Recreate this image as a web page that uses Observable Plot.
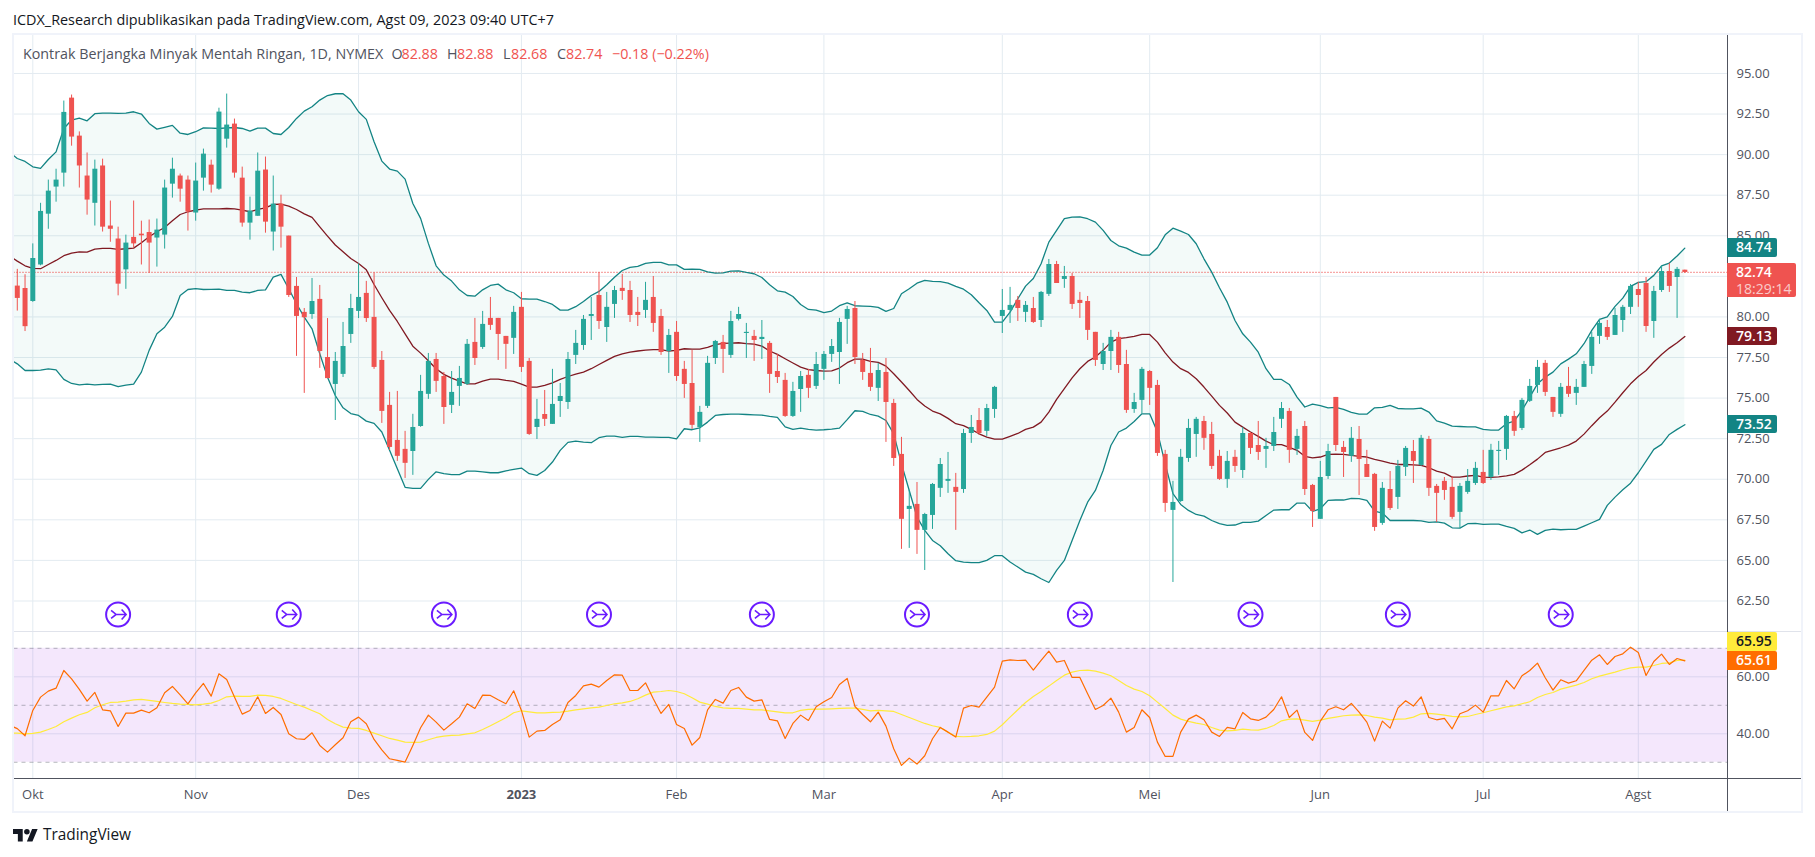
<!DOCTYPE html>
<html lang="id">
<head>
<meta charset="utf-8">
<title>Kontrak Berjangka Minyak Mentah Ringan</title>
<script src="https://cdn.jsdelivr.net/npm/d3@7"></script>
<script src="https://cdn.jsdelivr.net/npm/@observablehq/plot@0.6"></script>
<style>
html,body{margin:0;padding:0;background:#fff;overflow:hidden}
#page{position:relative;width:1815px;height:857px;font-family:"Open Sans",sans-serif;background:#fff}
#page>*{position:absolute}
svg{display:block;background:transparent!important}
.t{white-space:nowrap;line-height:1}
.box{box-sizing:border-box;border-radius:0 2px 2px 0;font-size:14px;font-weight:600;color:#fff;padding-left:9px}
</style>
</head>
<body>
<div id="page"></div>
<script>
// ---------- categories / ticks ----------
const firstCandleBar = -2, firstLineBar = -3;
const monthBars   = [0,21,42,63,83,102,125,144,166,187,207];
const monthLabels = ["Okt","Nov","Des","2023","Feb","Mar","Apr","Mei","Jun","Jul","Agst"];
const priceTicks  = [62.5,65,67.5,70,72.5,75,77.5,80,82.5,85,87.5,90,92.5,95];
const rsiTicks    = [40,60];
const rsiLevels   = [30,50,70];
const earningBars = [11,33,53,73,94,114,135,157,176,197];
const eventIconPrice = 61.67;
const lastPrice = 82.74;

// ---------- candles ----------
const opens = [81.9,81.75,80.95,83.2,86.33,88,88.86,93.48,91.14,88.68,
87,89.3,85.6,84.8,82.9,84.9,85.1,85.2,84.86,85.04,
88.18,88.68,88.43,86.4,88.55,89.35,87.87,90.95,91.88,88.55,
85.78,86.2,89.05,85.23,86.95,84.98,81.88,80.28,80.15,81.08,
77.5,75.84,76.46,78.92,80.34,81.45,79.97,77.32,74.55,72.39,
71.84,71.71,73.25,75.23,77.38,76.33,74.55,75.72,75.84,78.43,
78.12,79.91,79.91,78.8,78.68,80.59,77.26,73.19,73.99,73.38,
74.79,74.73,77.63,78.24,80.03,81.32,79.35,80.77,81.76,81.63,
80.28,80.4,81.2,80.03,77.87,79.05,76.77,75.9,73.19,74.49,
77.44,78.43,77.63,79.85,78.98,78.8,78.61,78.37,76.64,76.09,
73.87,75.53,76.4,75.72,76.77,77.69,77.81,79.85,80.52,77.32,
76.52,75.6,76.58,74.67,71.53,68.14,68.45,66.85,67.77,69.44,
69.87,69.5,69.37,72.82,73.62,72.95,74.3,80.03,80.4,81.02,
80.28,80.52,79.78,81.39,83.23,82.31,82.49,81.02,80.95,79.05,
77.07,77.87,78.74,77.07,74.3,74.86,76.64,75.78,71.53,68.08,
68.63,71.28,72.76,73.56,72.76,71.41,69.99,71.35,70.54,72.82,
72.08,71.84,72.02,73.69,74.18,71.84,73.25,69.62,67.53,70.17,
75.04,71.96,71.41,72.45,70.91,70.3,67.28,69.37,68.88,70.73,
71.71,70.85,72.45,69.56,69.87,69.5,67.96,69.19,69.74,70.42,
70.11,71.71,71.84,73.87,73.13,74.8,75.78,77.14,75.04,74,
75.72,75.29,75.66,76.95,78.8,79.35,78.86,79.78,80.59,81.69,
82.06,79.72,81.63,82.8,82.43,82.88];
const highs = [82.93,82.6,84.5,87,88.43,89.1,93.3,93.67,91.4,90.1,
89.66,89.72,87.14,85.53,85.04,87.14,85.9,85.97,86.03,88.43,
89.78,88.8,88.68,89.48,90.34,89.66,92.86,93.73,92.19,89.23,
87.38,90.1,89.85,88.68,87.5,84.98,82.43,80.52,82.37,81.94,
79.9,77.81,79.66,81.39,83.27,82.19,82.72,77.87,75.35,75.41,
72.95,74,76.4,77.75,77.75,76.58,76.64,76.95,78.61,79.91,
80.34,81.2,79.91,78.8,80.65,81.51,77.44,74.92,75.47,76.77,
75.9,77.81,79.17,80.09,81.2,82.74,81.51,81.88,82.62,82.19,
81.2,82.13,82.49,80.46,79.23,79.72,77.26,77.94,74.49,77.57,
78.55,78.86,80.34,80.59,79.6,79.17,79.78,78.49,77.69,76.52,
75.97,76.64,76.77,77.81,77.87,78.61,79.91,80.65,80.95,77.75,
78.06,77.14,77.44,74.92,72.58,69.31,69.8,67.9,69.74,71.28,
71.65,70.36,73.07,73.93,74.36,74.61,75.72,81.69,81.82,81.26,
80.95,81.2,81.57,83.54,83.42,83.11,82.68,81.51,81.26,79.05,
78.37,79.17,79.05,77.94,75.29,76.89,76.7,76.09,71.78,69.87,
71.84,73.69,73.81,73.87,73.5,71.78,71.71,71.78,73.19,72.88,
73.56,72.52,73.81,74.73,74.36,73.07,73.56,69.68,71.1,72.15,
75.04,72.33,73.19,73.25,71.78,70.36,69.8,70.48,71.16,72.02,
72.39,72.7,72.64,69.68,70.11,70.17,69.74,70.6,71.04,71.78,
72.15,72.33,73.93,74.18,74.98,76.15,77.32,77.32,75.04,75.9,
76.89,76.15,77.26,79.05,79.85,79.78,80.52,80.71,82,82.13,
82.43,81.88,83.11,83.3,83.05,82.88];
const lows = [80.36,79.1,80.9,83.15,85.4,87.07,88,90.52,87.94,86.27,
85.6,85.23,84.6,81.3,81.7,84.24,83.2,82.68,83.07,84.18,
87.32,87.07,85.29,85.9,87.75,87.63,87.8,90.4,88.55,85.53,
84.73,86.2,85.16,84.06,84.24,81.2,77.57,75.29,79.85,76.83,
76.2,73.62,76.27,78.37,79.9,79.66,76.77,73.44,71.78,71.1,
70.05,70.24,73.2,74.92,75.35,73.38,74.05,74.49,75.78,77.01,
78,79.17,77.32,76.77,77.69,76.58,72.7,72.45,73.25,73.38,
73.81,74.3,77.07,77.94,78.55,79.23,78.43,79.91,81.02,79.66,
79.41,79.91,79.05,77.63,76.52,76.03,74.98,73.07,72.27,74.36,
77.07,76.52,77.44,79.75,77.44,77.26,77.38,75.29,75.9,73.81,
73.81,74.12,74.98,75.53,76.09,77.2,75.84,78.31,77.07,76.09,
75.41,74.79,72.27,70.79,65.68,65.74,65.37,64.38,66.91,68.88,
69.13,66.85,69.13,72.21,72.7,72.64,73.75,78.98,79.6,79.72,
79.66,79.6,79.35,81.26,82.06,81.76,80.46,79.91,78.55,76.95,
76.7,76.7,76.52,74.06,74.06,74.03,74.55,71.41,67.96,63.64,
68.57,71.04,71.35,71.78,70.6,69.93,69.44,70.42,70.05,71.53,
71.16,70.67,71.71,73.13,70.98,71.47,69,67.03,67.53,69.99,
71.71,70.11,71.04,69,70.11,66.79,67.16,68.08,68.14,70.17,
69.74,70.79,68.94,67.34,68.7,67.53,66.97,69.07,69.62,69.68,
69.93,70.24,71.16,72.64,73,74.73,75.29,75.1,73.81,73.81,
75.04,74.55,75.66,76.46,78.31,78.55,78.86,79.05,80.15,80.59,
79.05,78.68,81.51,81.51,79.91,82.68];
const closes = [81.14,79.4,83.6,86.5,87.75,88.43,92.6,91.08,89.3,87.2,
89.1,85.53,85.4,82.02,84.55,84.5,85,84.55,85.35,87.94,
89.1,87.87,86.46,88.37,90.03,88.12,92.62,91.82,88.86,85.78,
86.52,88.98,85.84,86.95,85.53,81.32,80.03,79.95,80.95,77.87,
76.2,77.26,78.18,80.52,81.2,79.9,76.89,74.18,71.96,71.41,
70.98,73.19,75.41,77.26,76.03,74.42,75.35,76.21,78.31,77.44,
79.54,79.48,78.92,78.31,80.28,76.89,72.76,73.69,73.69,74.61,
75.1,77.38,78.37,79.85,80.15,79.72,80.59,81.63,81.57,80.09,
80.09,81.02,79.6,77.81,78.86,76.33,75.84,73.32,74.12,77.14,
78.49,78,79.72,80.15,79.05,78.55,78.74,76.46,76.27,73.87,
75.41,76.33,75.6,77.07,77.69,78.18,79.66,80.46,77.5,76.58,
75.66,76.7,74.73,71.28,67.53,68.33,66.85,67.83,69.68,70.91,
69.99,69.19,72.82,73.19,72.82,74.36,75.66,80.4,80.71,80.52,
80.71,79.66,81.51,83.23,82.06,82.49,80.77,80.83,79.17,77.32,
77.87,78.74,77.01,74.24,74.73,76.77,75.6,71.59,68.51,68.57,
71.35,73.13,73.69,72.52,70.79,69.99,71.1,70.79,72.82,71.9,
71.65,72.02,72.88,74.36,71.78,72.64,69.37,68.02,70.11,71.71,
72.08,71.65,72.52,71.22,70.11,67.03,69.44,68.2,70.79,71.9,
71.1,72.52,69.44,69.13,69.31,67.65,69.56,69.87,70.67,69.74,
71.78,71.78,73.87,72.95,74.86,75.72,76.89,75.35,74.12,75.66,
75.23,75.66,77.07,78.74,79.6,78.74,80.09,80.59,81.88,81.32,
79.41,81.57,82.8,81.88,82.93,82.74];

// ---------- Bollinger bands ----------
const bbUpper = [90.15,89.76,89.58,89.25,89.15,89.7,90.17,91.61,92.13,92.25,
92.08,92.52,92.56,92.55,92.54,92.56,92.64,92.5,91.92,91.57,
91.68,91.8,91.32,91.24,91.41,91.65,91.63,91.61,91.65,91.67,
91.61,91.45,91.63,91.63,91.3,91.24,91.67,92.23,92.68,92.95,
93.36,93.64,93.75,93.75,93.36,92.64,92.17,90.79,89.6,89.11,
88.98,88.49,86.99,86.07,84.53,83.15,82.58,82.21,81.67,81.32,
81.28,81.67,81.94,82.02,81.67,81.49,81.12,81.1,81.1,80.95,
80.77,80.42,80.42,80.63,80.95,81.32,81.57,81.98,82.45,82.86,
83.05,83.11,83.3,83.36,83.36,83.21,83.21,82.93,82.95,82.93,
82.78,82.7,82.72,82.82,82.84,82.74,82.66,82.43,81.98,81.61,
81.53,81.26,80.77,80.46,80.42,80.26,80.36,80.69,80.87,80.69,
80.67,80.65,80.59,80.34,80.52,81.43,81.74,82.08,82.25,82.19,
82.17,82.08,81.88,81.71,81.37,80.87,80.4,79.68,79.68,80.3,
81.12,81.9,82.37,83.28,84.61,85.33,86.05,86.15,86.17,86.05,
85.84,85.33,84.71,84.38,84.24,83.99,83.81,83.81,84.26,85.06,
85.47,85.29,85.08,84.51,83.58,82.76,81.8,80.91,79.78,78.96,
78.45,77.83,76.81,76.15,76.15,75.84,75.06,74.45,74.63,74.53,
74.4,74.43,74.3,74.12,74.01,74.01,74.4,74.43,74.55,74.36,
74.34,74.34,74.38,74.14,73.6,73.46,73.27,73.25,73.23,73.23,
73.07,73.03,73.03,73.42,73.58,74.24,75.06,75.88,76.29,76.6,
77.11,77.4,77.73,78.35,79.17,79.85,80.01,80.65,81.16,81.88,
82.13,82.17,82.56,83.15,83.32,83.75,84.24];
const bbMiddle = [83.75,83.44,83.15,82.99,82.97,83.23,83.48,83.77,83.93,84.01,
83.99,84.18,84.22,84.22,84.16,84.2,84.24,84.57,84.94,85.25,
85.51,85.92,86.31,86.48,86.58,86.66,86.66,86.66,86.68,86.66,
86.58,86.48,86.62,86.72,86.93,86.95,86.83,86.62,86.35,86.13,
85.55,84.98,84.43,84.01,83.6,83.29,82.9,82,81.18,80.4,
79.72,78.96,78.2,77.77,77.3,76.81,76.46,76.23,76.05,75.88,
75.88,76.05,76.17,76.17,76.09,76.03,75.86,75.68,75.68,75.78,
75.94,76.15,76.33,76.48,76.6,76.81,77.07,77.32,77.57,77.73,
77.83,77.9,77.96,77.98,77.98,77.9,77.94,78.04,78.02,78.02,
78.12,78.29,78.37,78.39,78.41,78.35,78.33,78.2,77.9,77.69,
77.42,77.16,76.91,76.75,76.7,76.66,76.68,76.85,77.18,77.4,
77.4,77.26,77.2,76.97,76.5,75.99,75.47,74.92,74.51,74.2,
74.03,73.75,73.42,73.3,73.07,72.8,72.6,72.47,72.47,72.64,
72.82,73.07,73.21,73.52,74.14,74.92,75.58,76.25,76.81,77.26,
77.53,77.94,78.45,78.66,78.72,78.8,78.92,78.92,78.45,77.79,
77.22,76.81,76.58,76.19,75.68,75.12,74.55,74.08,73.52,73.21,
72.91,72.64,72.35,72.13,72.13,71.96,71.78,71.41,71.32,71.37,
71.53,71.55,71.53,71.47,71.41,71.37,71.22,71.12,71,70.91,
70.91,70.89,70.85,70.71,70.5,70.38,70.13,70.13,70.2,70.24,
70.13,70.11,70.15,70.21,70.3,70.56,70.89,71.24,71.65,71.8,
71.94,72.1,72.35,72.78,73.3,73.79,74.2,74.75,75.33,75.88,
76.33,76.7,77.22,77.69,78.08,78.41,78.8];
const bbLower = [77.4,77.11,76.7,76.7,76.72,76.8,76.74,76.15,75.9,75.82,
75.86,75.82,75.84,75.86,75.7,75.8,75.86,76.6,77.94,78.96,
79.37,80.03,81.32,81.69,81.74,81.69,81.7,81.71,81.63,81.63,
81.53,81.49,81.63,81.67,82.45,82.62,81.74,80.81,79.99,79.27,
77.73,76.29,75.16,74.4,74.05,73.93,73.58,73.44,72.91,71.78,
70.65,69.5,69.44,69.44,69.99,70.46,70.34,70.28,70.28,70.5,
70.5,70.46,70.4,70.4,70.52,70.61,70.69,70.34,70.24,70.54,
71.06,71.78,72.27,72.35,72.29,72.25,72.56,72.66,72.66,72.58,
72.64,72.64,72.6,72.6,72.58,72.58,72.49,73.11,73.05,73.17,
73.52,73.93,73.99,74.01,74.01,73.99,73.97,73.95,73.87,73.81,
73.23,73.07,73.15,73.07,73.03,73.05,73.09,73.15,73.67,74.22,
74.18,73.99,73.89,73.62,72.8,70.95,69.31,67.67,66.85,66.23,
65.9,65.41,64.98,64.9,64.86,64.86,65,65.29,65.29,64.9,
64.59,64.28,64.14,63.87,63.64,64.38,65,66.23,67.46,68.59,
69.31,70.54,72.08,72.91,73.15,73.56,74.03,74.03,72.91,70.95,
69.11,68.45,68.08,67.83,67.73,67.46,67.26,67.16,67.18,67.34,
67.34,67.42,67.77,68.1,68.12,68.12,68.53,68.53,68.02,68.18,
68.7,68.72,68.72,68.82,68.8,68.7,68.04,67.92,67.46,67.46,
67.46,67.46,67.44,67.34,67.38,67.3,67.01,66.99,67.26,67.28,
67.22,67.24,67.24,67.09,66.97,66.7,66.87,66.6,66.85,66.93,
66.89,66.91,66.91,67.11,67.32,67.53,68.39,68.9,69.35,69.76,
70.4,71.12,71.84,72.15,72.76,73.07,73.36];

// ---------- RSI and its moving average ----------
const rsiValues = [43,41.8,39.3,48.19,52.87,54.97,56.02,62.22,59.3,55.56,
51.46,54.5,48.42,48.07,42.57,47.25,47.25,48.3,47.37,49.12,
54.39,56.61,53.68,50.53,54.39,57.66,53.22,61.05,59.06,52.87,
46.9,48.19,52.98,47.13,49.24,46.78,40,38.25,38.01,40.35,
35.91,33.57,36.14,38.6,44.21,45.85,43.51,38.01,34.39,31.23,
30.64,30.06,35.91,42.11,46.55,44.09,41.29,43.51,45.85,50.53,
48.89,53.57,53.45,51.93,50.53,55.09,48.19,38.83,40.94,41.17,
43.27,44.91,50.99,53.45,56.84,57.43,56.37,58.71,60.7,60.58,
55.2,55.2,57.89,52.28,47.13,50.29,43.27,41.87,36.02,38.71,
48.42,52.05,50.76,55.2,56.26,52.87,51.46,51.93,45.03,44.56,
38.36,43.63,46.55,44.68,49.47,51.23,52.75,57.31,59.42,49.59,
46.78,44.21,47.6,42.69,34.74,28.89,31.46,29.36,32.28,38.25,
42.22,40.58,38.83,49.01,49.94,49.36,52.87,56.37,65.5,65.96,
65.73,65.85,62.34,65.73,69,65.15,65.73,59.77,59.77,54.04,
48.54,49.94,52.51,47.6,40.58,42.22,48.42,45.73,37.08,32.05,
32.05,40.58,45.15,46.55,44.91,40.58,39.06,42.22,41.75,47.49,
45.26,44.68,45.85,48.54,52.98,45.73,48.3,40.47,37.66,44.44,
48.42,49.47,48.42,50.64,47.6,44.09,37.43,44.44,41.99,49.01,
51.58,49.71,52.98,45.73,44.91,45.38,41.75,47.02,48.07,50.06,
47.6,53.33,53.33,58.71,55.79,60.35,62.22,64.8,59.65,55.32,
58.95,57.78,58.6,62.22,65.85,67.72,64.33,67.13,68.07,70.41,
68.54,60.47,65.38,67.95,64.33,66.43,65.61];
const rsiAverage = [40.3,40.2,40,40.12,40.58,41.52,42.57,44.21,45.5,46.67,
47.49,49.12,50.18,50.99,51.11,51.46,51.93,52.05,51.7,51.35,
50.99,50.64,50.41,50.29,50.18,50.41,50.76,51.7,52.98,53.22,
53.1,53.1,53.57,53.45,53.1,52.4,51.35,50.29,49.36,48.19,
47.02,45.03,43.51,42.34,41.99,41.87,41.17,40.23,39.3,38.36,
37.78,37.08,36.96,37.08,37.89,38.71,39.18,39.42,39.53,40,
40.35,41.52,42.81,44.21,45.61,47.37,48.07,47.72,47.37,47.37,
47.49,47.6,47.95,48.42,48.77,49.12,49.36,49.94,50.53,50.88,
51.35,52.28,53.57,54.62,54.85,55.2,54.85,54.04,52.63,51.11,
50.41,49.59,49.12,48.89,48.89,48.65,48.42,48.42,48.07,47.72,
47.37,47.37,48.19,48.54,48.65,48.65,48.77,48.89,49.01,49.01,
48.54,48.07,48.19,48.07,47.84,46.78,45.73,44.68,43.63,42.81,
42.22,40.58,39.06,38.95,39.06,39.3,39.77,40.94,43.16,45.85,
48.42,50.99,53.1,54.85,56.73,58.71,60.58,61.64,62.22,62.34,
61.99,61.29,60.35,58.71,56.96,55.67,54.85,53.33,51.11,48.89,
46.55,45.15,44.33,43.74,43.27,42.22,41.29,41.05,41.17,41.64,
41.4,41.29,41.87,42.92,44.56,45.15,45.26,44.79,44.33,44.79,
45.38,45.85,46.32,46.55,46.67,46.43,45.85,45.5,44.91,45.15,
45.26,45.85,47.02,47.13,46.9,46.55,46.08,45.96,46.08,46.78,
47.37,48.07,48.77,49.47,49.82,50.53,51.23,52.75,53.8,54.5,
55.67,56.37,57.08,58.01,59.3,60.23,60.94,61.64,62.46,63.16,
63.39,63.39,63.98,64.68,64.91,65.73,65.85];

// ---------- colours ----------
const UP="#26a69a", DOWN="#ef5350", BAND="#138484", BASIS="#801922";
const GRID="#e3ebf1", AXIS="#50535e", FONT='"Open Sans",sans-serif';
const RSI_C="#ff6d00", MA_C="#ffeb3b", ICON="#6a1bff";

const candles = opens.map((o,k)=>({bar:k+firstCandleBar,o,h:highs[k],l:lows[k],c:closes[k],
  up:closes[k]>=o}));
const lineRows = bbUpper.map((u,k)=>({bar:k+firstLineBar,u,m:bbMiddle[k],d:bbLower[k],
  rsi:rsiValues[k],ma:rsiAverage[k]}));

const page = document.getElementById("page");
const W = 1815, PLOT_L = 13.5, PLOT_R = 1727;
const xDomain = [-2.424, 218.5];
const xOpts = {domain:xDomain, range:[PLOT_L,PLOT_R]};

// circle arrow glyph used as a custom dot symbol
const mergeArrow = {draw(ctx){
  ctx.moveTo(-7,-4);ctx.lineTo(-2,0);ctx.lineTo(-7,4);
  ctx.moveTo(-2,0);ctx.lineTo(8,0);
  ctx.moveTo(3.5,-5);ctx.lineTo(8,0);ctx.lineTo(3.5,5);
}};

const pricePlot = Plot.plot({
  width:W, height:631, marginLeft:PLOT_L, marginRight:W-PLOT_R, marginTop:34, marginBottom:0,
  style:{fontFamily:FONT,fontSize:"13px",color:AXIS,background:"transparent"},
  x:{...xOpts,axis:null},
  y:{domain:[60.62,97.4],range:[631,34],axis:null},
  marks:[
    Plot.gridX(monthBars,{stroke:GRID,strokeOpacity:1}),
    Plot.gridY(priceTicks,{stroke:GRID,strokeOpacity:1}),
    Plot.axisY({anchor:"right",ticks:priceTicks,tickSize:0,tickPadding:9,tickFormat:d3.format(".2f"),label:null,fill:AXIS,fontSize:13}),
    Plot.areaY(lineRows,{x:"bar",y1:"u",y2:"d",fill:UP,fillOpacity:0.055,clip:true}),
    Plot.ruleY([lastPrice],{stroke:DOWN,strokeWidth:1.2,strokeDasharray:"1,2"}),
    Plot.line(lineRows,{x:"bar",y:"u",stroke:BAND,strokeWidth:1.3,clip:true}),
    Plot.line(lineRows,{x:"bar",y:"d",stroke:BAND,strokeWidth:1.3,clip:true}),
    Plot.line(lineRows,{x:"bar",y:"m",stroke:BASIS,strokeWidth:1.3,clip:true}),
    Plot.ruleX(candles,{x:"bar",y1:"l",y2:"h",stroke:d=>d.up?UP:DOWN,strokeWidth:1}),
    Plot.ruleX(candles,{x:"bar",y1:"o",y2:"c",stroke:d=>d.up?UP:DOWN,strokeWidth:5}),
    Plot.dot(earningBars,{x:d=>d,y:()=>eventIconPrice,r:12,stroke:ICON,strokeWidth:2,fill:"#fff"}),
    Plot.dot(earningBars,{x:d=>d,y:()=>eventIconPrice,r:12,symbol:mergeArrow,stroke:ICON,strokeWidth:1.6,fill:"none"})
  ]
});

const monthName = d=>monthLabels[monthBars.indexOf(d)];
const rsiPlot = Plot.plot({
  width:W, height:181, marginLeft:PLOT_L, marginRight:W-PLOT_R, marginTop:0, marginBottom:33.7,
  style:{fontFamily:FONT,fontSize:"13px",color:AXIS,background:"transparent"},
  x:{...xOpts,axis:null},
  y:{domain:[24.2,75.9],range:[147.3,0],axis:null},
  marks:[
    Plot.gridX(monthBars,{stroke:GRID,strokeOpacity:1}),
    Plot.gridY(rsiTicks,{stroke:GRID,strokeOpacity:1}),
    Plot.rect([0],{x1:()=>xDomain[0],x2:()=>xDomain[1],y1:()=>30,y2:()=>70,fill:"#910fe1",fillOpacity:0.1}),
    Plot.ruleY(rsiLevels,{stroke:"#787b86",strokeOpacity:0.55,strokeDasharray:"4,4"}),
    Plot.axisY({anchor:"right",ticks:rsiTicks,tickSize:0,tickPadding:9,tickFormat:d3.format(".2f"),label:null,fill:AXIS,fontSize:13}),
    Plot.axisX({anchor:"bottom",ticks:monthBars.filter(b=>monthName(b)!=="2023"),tickSize:0,tickPadding:11,tickFormat:monthName,label:null,fill:AXIS,fontSize:13}),
    Plot.axisX({anchor:"bottom",ticks:monthBars.filter(b=>monthName(b)==="2023"),tickSize:0,tickPadding:11,tickFormat:monthName,label:null,fill:AXIS,fontSize:13,fontWeight:700}),
    Plot.line(lineRows,{x:"bar",y:"ma",stroke:MA_C,strokeWidth:1.2,clip:true}),
    Plot.line(lineRows,{x:"bar",y:"rsi",stroke:RSI_C,strokeWidth:1.2,clip:true})
  ]
});

function place(el,left,top,css){el.style.left=left+"px";el.style.top=top+"px";if(css)Object.assign(el.style,css);page.appendChild(el);return el;}
function div(cls,html){const e=document.createElement("div");e.className=cls||"";if(html!=null)e.innerHTML=html;return e;}

place(pricePlot,0,0);
place(rsiPlot,0,631);

// pane frame
const fr="#f0f3fa";
place(div(),12,33,{width:"1791px",height:"2px",background:fr});
place(div(),12,811,{width:"1791px",height:"2px",background:fr});
place(div(),12,33,{width:"2px",height:"780px",background:fr});
place(div(),1801,33,{width:"2px",height:"780px",background:fr});
place(div(),14,631,{width:"1787px",height:"1px",background:"#e0e3eb"});
place(div(),13.5,778,{width:"1787px",height:"1px",background:AXIS});
place(div(),1727,35,{width:"1px",height:"776px",background:AXIS});

// header, legend, footer
place(div("t","ICDX_Research dipublikasikan pada TradingView.com, Agst 09, 2023 09:40 UTC+7"),13,13,{fontSize:"14.4px",color:"#131722"});
const leg=[[23,"Kontrak Berjangka Minyak Mentah Ringan, 1D, NYMEX",AXIS],[391.5,"O",AXIS],[401.5,"82.88",DOWN],[447,"H",AXIS],[457,"82.88",DOWN],[503,"L",AXIS],[511,"82.68",DOWN],[557,"C",AXIS],[566,"82.74",DOWN],[612,"\u22120.18 (\u22120.22%)",DOWN]];
leg.forEach(([x,s,c])=>place(div("t",s),x,46.5,{fontSize:"14.3px",color:c}));
place(div("",'<svg width="25" height="20" viewBox="0 0 36 28"><path fill="#131722" d="M14 22H7V11H0V4h14v18zM28 22h-8l7.5-18h8L28 22z"/><circle fill="#131722" cx="20" cy="8" r="4"/></svg>'),13,826);
place(div("t","TradingView"),43,827,{fontSize:"15.4px",color:"#131722"});

// axis price tags, placed through the charts' own scales
const yP=v=>pricePlot.scale("y").apply(v), yR=v=>rsiPlot.scale("y").apply(v)+631;
function tag(text,yCenter,bg,color,w=49.5,h=18.4){
  place(div("t box",text),1727,yCenter-h/2,{width:w+"px",height:h+"px",lineHeight:h+"px",background:bg,color:color||"#fff"});
}
const lastU=bbUpper.at(-1), lastM=bbMiddle.at(-1), lastD=bbLower.at(-1), lastR=rsiValues.at(-1);
tag("84.74",yP(lastU),BAND);
tag("79.13",yP(lastM),BASIS);
tag("73.52",yP(lastD),BAND);
const pt=place(div("box"),1727,yP(lastPrice)-9.3,{width:"68.5px",height:"34.5px",background:DOWN,lineHeight:"17px"});
pt.innerHTML='<div>82.74</div><div style="opacity:.7;font-weight:400">18:29:14</div>';
tag("65.61",yR(lastR),RSI_C);
tag("65.95",yR(lastR)-19,MA_C,"#131722");
</script>
</body>
</html>
